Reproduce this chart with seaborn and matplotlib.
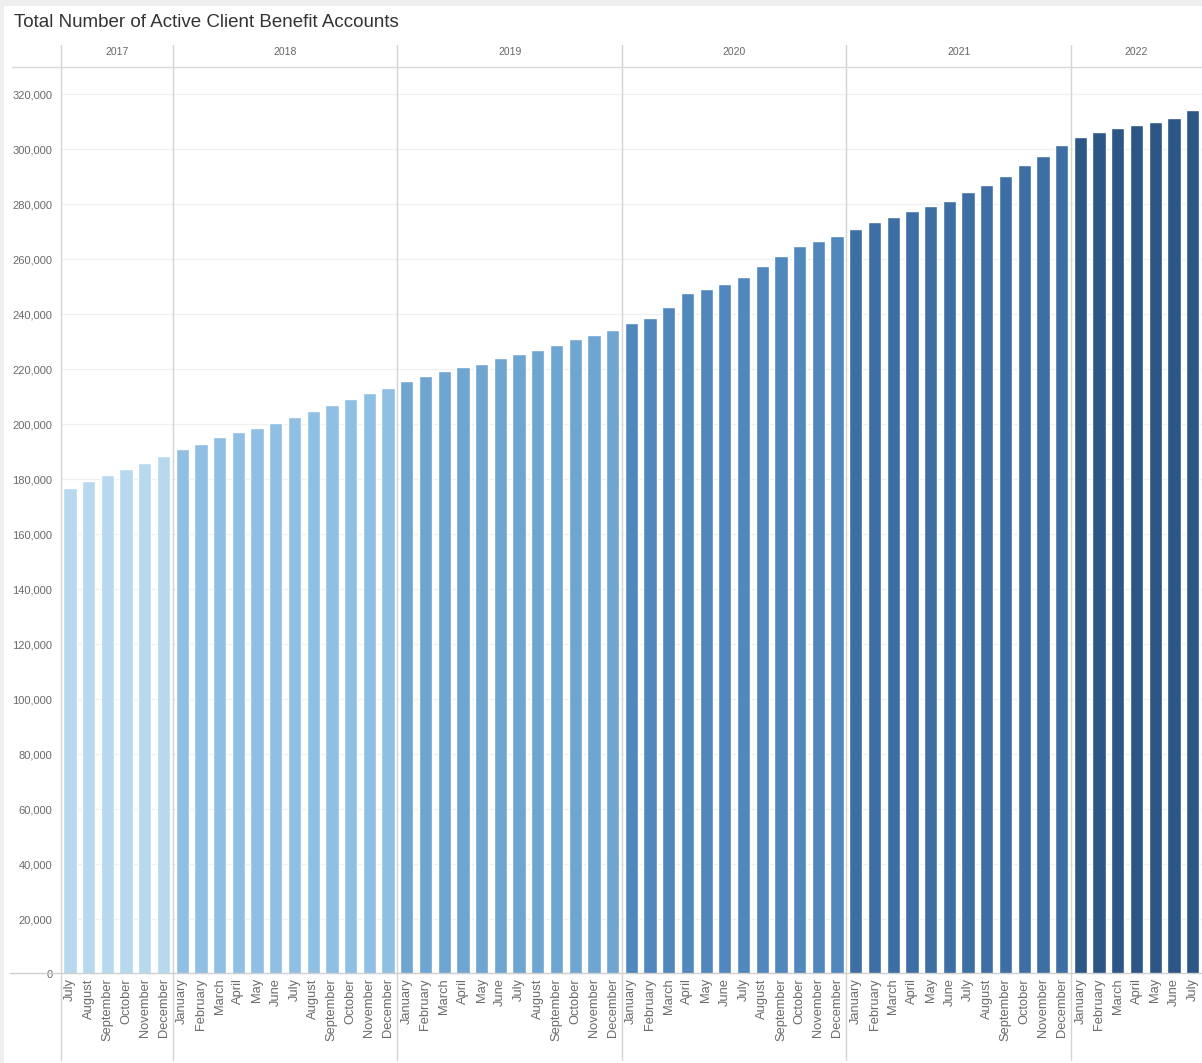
import matplotlib
matplotlib.use("Agg")
import matplotlib.pyplot as plt
import pandas as pd
import seaborn as sns
from matplotlib.lines import Line2D
from matplotlib.patches import Rectangle
from matplotlib.ticker import FuncFormatter, MultipleLocator
import matplotlib.transforms as mtransforms

# ---- data -------------------------------------------------------------
years = [2017] * 6 + [2018] * 12 + [2019] * 12 + [2020] * 12 + [2021] * 12 + [2022] * 7

month_names = ["January", "February", "March", "April", "May", "June", "July",
               "August", "September", "October", "November", "December"]
months = month_names[6:] + month_names * 4 + month_names[:7]

accounts = [
    # 2017 (Jul-Dec)
    176700, 179200, 181500, 183600, 186100, 188300,
    # 2018
    190900, 193000, 195300, 197200, 198700, 200600,
    202700, 205000, 207200, 209100, 211400, 213300,
    # 2019
    215700, 217600, 219400, 221000, 222100, 224000,
    225600, 227000, 229000, 230900, 232500, 234400,
    # 2020
    236700, 238700, 242500, 247700, 249300, 250900,
    253600, 257500, 261200, 264700, 266700, 268600,
    # 2021
    270900, 273600, 275500, 277500, 279400, 281300,
    284400, 287000, 290500, 294300, 297700, 301600,
    # 2022 (Jan-Jul)
    304400, 306300, 307700, 308900, 310100, 311600, 314400,
]

year_colors = {
    2017: "#b6d9f0",
    2018: "#8fbfe3",
    2019: "#6fa5d1",
    2020: "#5088be",
    2021: "#3d6fa4",
    2022: "#2c5686",
}

df = pd.DataFrame({"year": years, "month": months, "accounts": accounts})
df["period"] = df["year"].astype(str) + "-" + df["month"]

# ---- style ------------------------------------------------------------
sns.set_theme(style="white")
plt.rcParams["font.family"] = ["Liberation Sans", "DejaVu Sans"]

W_PX, H_PX = 1202, 1063
fig = plt.figure(figsize=(W_PX / 100, H_PX / 100), dpi=100)
fig.patch.set_facecolor("white")

# plot area in pixel terms (from top-left)
ax_left, ax_right = 60.6, 1202.0
ax_top, ax_bottom = 67.0, 974.0
ax = fig.add_axes([ax_left / W_PX, 1 - ax_bottom / H_PX,
                   (ax_right - ax_left) / W_PX, (ax_bottom - ax_top) / H_PX])

sns.barplot(data=df, x="period", y="accounts", hue="year", palette=year_colors,
            dodge=False, width=0.71, saturation=1, legend=False, ax=ax, zorder=3)

n = len(df)
ax.set_xlim(-0.5, n - 0.5)
ax.set_ylim(0, 330000)
ax.yaxis.set_major_locator(MultipleLocator(20000))
ax.yaxis.set_major_formatter(FuncFormatter(lambda v, _: f"{int(v):,}"))
ax.grid(axis="y", color="#f0f0f0", linewidth=1, zorder=0)
ax.grid(axis="x", visible=False)
for s in ax.spines.values():
    s.set_visible(False)

ax.set_xticks(range(n))
ax.set_xticklabels(df["month"], rotation=90, fontsize=9.3, color="#6a6a6a", va="top")
ax.tick_params(axis="x", length=0, pad=3)
ax.tick_params(axis="y", length=0, pad=6, labelsize=8, labelcolor="#6a6a6a")
ax.set_xlabel("")
ax.set_ylabel("")

# ---- year panels: separators, header line and header labels -------------
def px_to_axes_y(py):
    return ((H_PX - py) - (H_PX - ax_bottom)) / (ax_bottom - ax_top)

trans = mtransforms.blended_transform_factory(ax.transData, ax.transAxes)
y_sep_top, y_sep_bot = px_to_axes_y(45), px_to_axes_y(1060)

bounds = [-0.5]
for i in range(1, n):
    if years[i] != years[i - 1]:
        bounds.append(i - 0.5)
bounds.append(n - 0.5)

for b in bounds[:-1]:
    ax.add_line(Line2D([b, b], [y_sep_bot, y_sep_top], transform=trans,
                       color="#d4d4d4", linewidth=1, clip_on=False, zorder=4))

label_y = px_to_axes_y(52)
unique_years = list(dict.fromkeys(years))
for k, yr in enumerate(unique_years):
    cx = (bounds[k] + bounds[k + 1]) / 2
    ax.text(cx, label_y, str(yr), transform=trans, ha="center", va="center",
            fontsize=7.5, color="#666666", clip_on=False)

# header rule and zero baseline across the full width
fig.add_artist(Line2D([12 / W_PX, 1.0], [1 - ax_top / H_PX] * 2,
                      transform=fig.transFigure, color="#d9d9d9", linewidth=1))
fig.add_artist(Line2D([10 / W_PX, 1.0], [1 - (ax_bottom - 1) / H_PX] * 2,
                      transform=fig.transFigure, color="#cfcfcf", linewidth=1,
                      zorder=5))

# light frame along top and left edges
fig.add_artist(Rectangle((0, 1 - 6 / H_PX), 1, 6 / H_PX, transform=fig.transFigure,
                         facecolor="#efefef", edgecolor="none"))
fig.add_artist(Rectangle((0, 0), 4 / W_PX, 1, transform=fig.transFigure,
                         facecolor="#efefef", edgecolor="none"))

fig.text(14 / W_PX, 1 - 22.5 / H_PX, "Total Number of Active Client Benefit Accounts",
         ha="left", va="center", fontsize=13.5, color="#333333")

fig.savefig("out.png", dpi=100)
